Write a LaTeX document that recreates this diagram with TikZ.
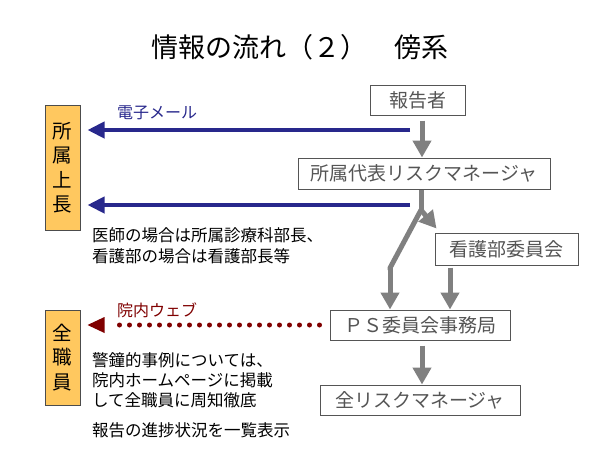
\documentclass[tikz,border=0pt]{standalone}
\usepackage{fontspec}
\setmainfont{Noto Sans CJK JP}
\usetikzlibrary{arrows.meta,calc}
\definecolor{boxtext}{RGB}{85,85,85}
\definecolor{arrgray}{RGB}{128,128,128}
\definecolor{mailblue}{RGB}{40,40,140}
\definecolor{webred}{RGB}{128,0,0}
\definecolor{bossfill}{RGB}{255,200,95}
\tikzset{
  flowbox/.style={draw=boxtext,line width=1pt,text=boxtext,inner sep=0pt,
    font=\fontsize{19}{22}\selectfont},
  sidebox/.style={draw=black!70,line width=1pt,fill=bossfill,inner sep=0pt,
    minimum width=35pt,align=center,font=\fontsize{19.5}{24.5}\selectfont},
  grayarrow/.style={draw=arrgray,line width=5pt,
    -{Triangle[length=17pt,width=18pt]}},
  grayline/.style={draw=arrgray,line width=5pt},
  bluearrow/.style={draw=mailblue,line width=4pt,
    -{Triangle[length=17pt,width=16pt]}},
  webarrow/.style={draw=webred,line width=5pt,line cap=round,
    dash pattern=on 0pt off 10pt},
  note/.style={anchor=west,inner sep=0pt,font=\fontsize{16.5}{19}\selectfont},
}
\begin{document}
\begin{tikzpicture}[x=1pt,y=-1pt]
\path[use as bounding box,fill=white] (0,0) rectangle (600,450);

\node[inner sep=0pt,font=\fontsize{27}{30}\selectfont] (title) at (300,47) {情報の流れ（２）　傍系};

% flow boxes
\node[flowbox,minimum width=95pt,minimum height=30pt] (hokoku) at (417.5,100) {報告者};
\node[flowbox,minimum width=252pt,minimum height=31pt] (shozoku) at (424,173.5) {所属代表リスクマネージャ};
\node[flowbox,minimum width=143pt,minimum height=32pt] (kango) at (506.5,249) {看護部委員会};
\node[flowbox,minimum width=180pt,minimum height=30pt] (ps) at (420,325) {ＰＳ委員会事務局};
\node[flowbox,minimum width=200pt,minimum height=30pt] (zenrisk) at (420,400) {全リスクマネージャ};

% side boxes
\node[sidebox,minimum height=125pt] (joucho) at (62.5,167.5) {所\\属\\上\\長};
\node[sidebox,minimum height=95pt] (zenshoku) at (62.5,357.5) {全\\職\\員};

% gray flow arrows
\draw[grayarrow] ([xshift=4.5pt,yshift=-5pt]hokoku.south) -- ([xshift=4.5pt]hokoku.south |- shozoku.north);
\coordinate (j) at (421,210);
\coordinate (bend) at (390,268);
\draw[grayline] ([xshift=-3pt]shozoku.south) -- (j);
\draw[grayline,line join=round] (j) -- (bend) -- ++(0,2);
\draw[grayarrow] (bend) -- (bend |- ps.north);
\draw[grayarrow] (j) -- ([xshift=2pt,yshift=4pt]kango.north west);
\draw[grayarrow] ([xshift=-56.5pt,yshift=-2pt]kango.south) -- ([xshift=-56.5pt]kango.south |- ps.north);
\draw[grayarrow] ([xshift=2pt,yshift=-5pt]ps.south) -- ([xshift=2pt]ps.south |- zenrisk.north);

% blue mail arrows
\coordinate (m1) at (410,130);
\coordinate (m2) at (410,205);
\draw[bluearrow,shorten >=7pt] (m1) -- (joucho.east |- m1);
\draw[bluearrow,shorten >=7pt] (m2) -- (joucho.east |- m2);
\node[inner sep=0pt,anchor=west,text=mailblue,font=\fontsize{16}{18}\selectfont] (mail) at (117,113) {電子メール};

% notes
\node[note] (n1) at (92,235) {医師の場合は所属診療科部長、};
\node[note] (n2) at (92,256) {看護部の場合は看護部長等};

% web arrow
\draw[webarrow] ([xshift=-10pt]ps.west) -- ([xshift=30pt]zenshoku.east |- ps.west);
\draw[draw=none,fill=webred] ([xshift=7pt]zenshoku.east |- ps.west) -- ++(17,-8) -- ++(0,16) -- cycle;
\node[inner sep=0pt,anchor=west,text=webred,font=\fontsize{16}{18}\selectfont] (web) at (117,310) {院内ウェブ};

\node[note] (n3) at (92,360) {警鐘的事例については、};
\node[note] (n4) at (92,380) {院内ホームページに掲載};
\node[note] (n5) at (92,400) {して全職員に周知徹底};
\node[note] (n6) at (92,430) {報告の進捗状況を一覧表示};
\end{tikzpicture}
\end{document}
